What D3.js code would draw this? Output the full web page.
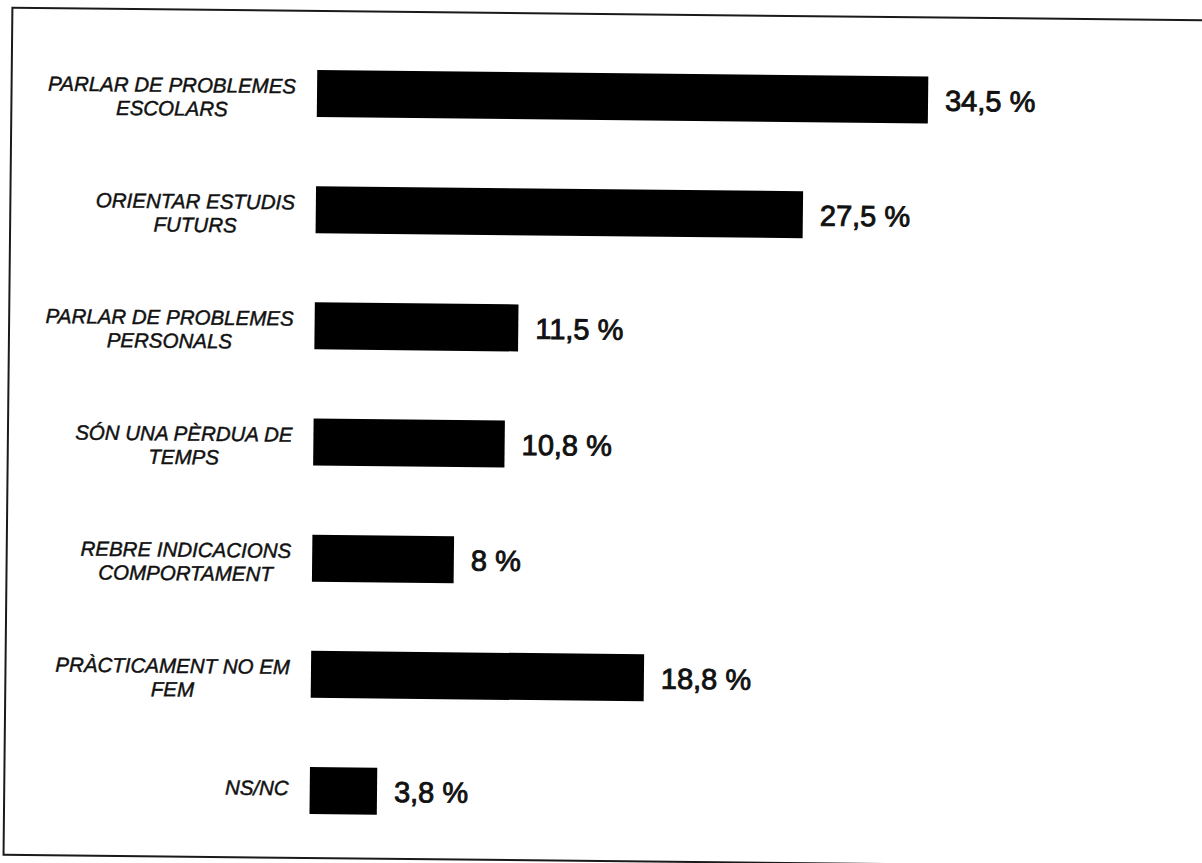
<!DOCTYPE html>
<html>
<head>
<meta charset="utf-8">
<script src="https://cdn.jsdelivr.net/npm/d3@7"></script>
<style>
  html, body { margin: 0; padding: 0; background: #fff; }
  svg { display: block; }
  .cat { font-family: "Liberation Sans", Arial, sans-serif; font-style: italic; font-size: 20.5px; fill: #111; stroke: #111; stroke-width: 0.45px; }
  .val { font-family: "Liberation Sans", Arial, sans-serif; font-size: 29px; fill: #111; stroke: #111; stroke-width: 0.9px; }
</style>
</head>
<body>
<script>
// chart data
var categories = [
  "PARLAR DE PROBLEMES ESCOLARS",
  "ORIENTAR ESTUDIS FUTURS",
  "PARLAR DE PROBLEMES PERSONALS",
  "SÓN UNA PÈRDUA DE TEMPS",
  "REBRE INDICACIONS COMPORTAMENT",
  "PRÀCTICAMENT NO EM FEM",
  "NS/NC"
];
var categoryLines = [
  ["PARLAR DE PROBLEMES", "ESCOLARS"],
  ["ORIENTAR ESTUDIS", "FUTURS"],
  ["PARLAR DE PROBLEMES", "PERSONALS"],
  ["SÓN UNA PÈRDUA DE", "TEMPS"],
  ["REBRE INDICACIONS", "COMPORTAMENT"],
  ["PRÀCTICAMENT NO EM", "FEM"],
  ["NS/NC"]
];
var values = [34.5, 27.5, 11.5, 10.8, 8, 18.8, 3.8];

var W = 1202, H = 863;

var locale = d3.formatLocale({ decimal: ",", thousands: ".", grouping: [3], currency: ["", " €"] });
var fmt = locale.format(".1~f");

var x = d3.scaleLinear().domain([0, 40]).range([313.5, 1022]);
var y = d3.scalePoint().domain(categories).range([96.5, 793.5]);
var barH = 47;

var svg = d3.select("body").append("svg")
  .attr("width", W)
  .attr("height", H);

// the original is a slightly tilted scan
var g = svg.append("g").attr("transform", "rotate(0.6," + W / 2 + "," + H / 2 + ")");

g.append("rect")
  .attr("x", 8)
  .attr("y", 14)
  .attr("width", 1220)
  .attr("height", 847)
  .attr("fill", "none")
  .attr("stroke", "#1a1a1a")
  .attr("stroke-width", 2);

var rows = g.selectAll(".row")
  .data(categories)
  .enter().append("g")
  .attr("class", "row");

rows.append("rect")
  .attr("x", x(0))
  .attr("y", function (d) { return y(d) - barH / 2; })
  .attr("width", function (d, i) { return x(values[i]) - x(0); })
  .attr("height", barH)
  .attr("fill", "#000");

rows.append("text")
  .attr("class", "val")
  .attr("x", function (d, i) { return x(values[i]) + 17; })
  .attr("y", function (d) { return y(d); })
  .attr("dy", "0.37em")
  .text(function (d, i) { return fmt(values[i]) + " %"; });

// category labels: lines centred on each other, block right-aligned to the bars
var labelRight = x(0) - 21;
var lineH = 23.5;
rows.each(function (d, i) {
  var lines = categoryLines[i];
  var t = d3.select(this).append("text").attr("class", "cat").attr("text-anchor", "middle");
  lines.forEach(function (ln, j) {
    t.append("tspan")
      .attr("y", y(d) + 5 + j * lineH - (lines.length - 1) * 5)
      .text(ln);
  });
  var maxW = 0;
  t.selectAll("tspan").each(function () {
    maxW = Math.max(maxW, this.getComputedTextLength());
  });
  t.selectAll("tspan").attr("x", labelRight - maxW / 2);
});
</script>
</body>
</html>
